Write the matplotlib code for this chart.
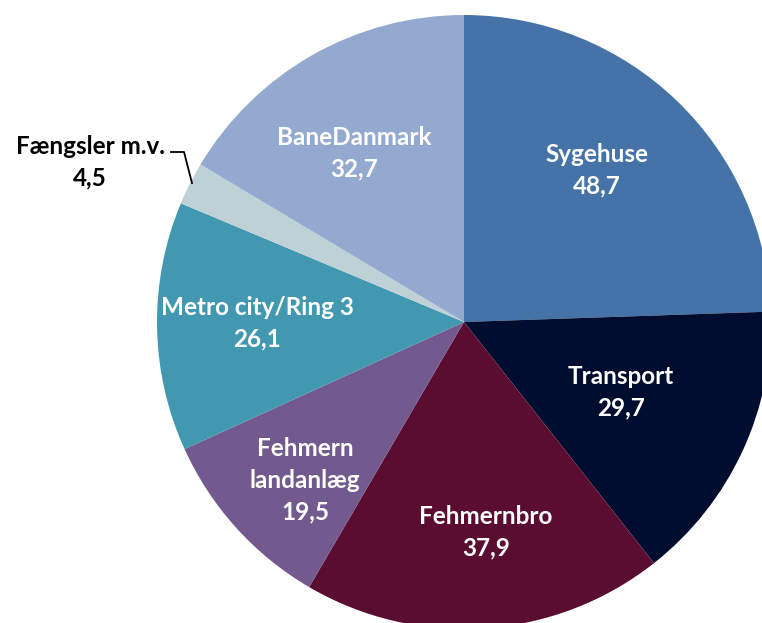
import matplotlib
matplotlib.use("Agg")
import matplotlib.pyplot as plt

categories = ["Sygehuse", "Transport", "Fehmernbro", "Fehmern\nlandanlæg",
              "Metro city/Ring 3", "Fængsler m.v.", "BaneDanmark"]
values = [48.7, 29.7, 37.9, 19.5, 26.1, 4.5, 32.7]
value_labels = ["48,7", "29,7", "37,9", "19,5", "26,1", "4,5", "32,7"]
colors = ["#4673A7", "#000D2F", "#5A0D30", "#72598E", "#4198B0", "#BED1D7", "#94A9D0"]

W, H = 762, 623
# label positions in pixel space from top-left (layout)
label_pos = [(597, 170), (621, 392), (486, 532), (305, 480), (257, 323), (90, 162), (354, 153)]
label_colors = ["white"] * 5 + ["black", "white"]

fig = plt.figure(figsize=(W / 100, H / 100), dpi=100)
ax = fig.add_axes([0, 0, 1, 1])

cx, cy, r = 464, 322, 307
ax.pie(values, colors=colors, startangle=90, counterclock=False,
       center=(cx, H - cy), radius=r, wedgeprops=dict(linewidth=0),
       frame=True)
ax.set_xlim(0, W)
ax.set_ylim(0, H)
ax.set_aspect("equal")
ax.axis("off")

for cat, val, (x, y), c in zip(categories, value_labels, label_pos, label_colors):
    ax.text(x, H - y, f"{cat}\n{val}", ha="center", va="center", color=c,
            fontsize=17.5, fontweight="bold", family="Lato", linespacing=1.45)

# leader line for small slice
ax.plot([171, 184, 192], [H - 152, H - 152, H - 183], color="black", lw=1.3)

fig.savefig("out.png", dpi=100)
